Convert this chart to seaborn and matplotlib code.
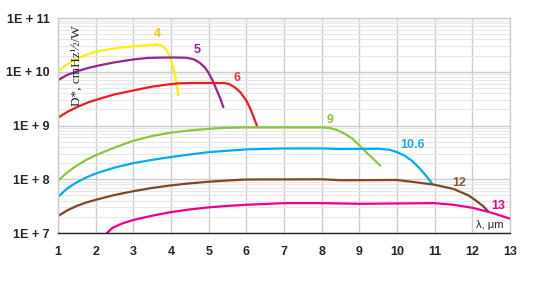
import numpy as np
import pandas as pd
import matplotlib
matplotlib.use("Agg")
import matplotlib.pyplot as plt
import seaborn as sns

# %%
# detectivity curves (wavelength in um, D* in cmHz^1/2/W)

x_4 = [1.0, 1.25, 1.5, 1.8, 2.1, 2.6, 3.0, 3.4, 3.63, 3.75, 3.85, 3.95, 4.02, 4.08, 4.13, 4.17, 4.19]
d_4 = [1.02e10, 1.4e10, 1.75e10, 2.15e10, 2.45e10, 2.8e10, 3.0e10, 3.15e10, 3.25e10, 3.1e10,
       2.7e10, 2.1e10, 1.5e10, 1.05e10, 7e9, 5e9, 3.7e9]

x_5 = [1.0, 1.25, 1.5, 1.8, 2.1, 2.5, 3.0, 3.4, 4.0, 4.4, 4.6, 4.75, 4.9, 5.0, 5.1, 5.2, 5.3, 5.39]
d_5 = [7e9, 8.8e9, 1.02e10, 1.18e10, 1.32e10, 1.5e10, 1.7e10, 1.82e10, 1.85e10, 1.83e10,
       1.72e10, 1.5e10, 1.2e10, 9.5e9, 7e9, 4.8e9, 3.3e9, 2.2e9]

x_6 = [1.0, 1.25, 1.5, 1.8, 2.1, 2.5, 3.0, 3.5, 3.9, 4.2, 4.6, 5.4, 5.55, 5.7, 5.85, 6.0, 6.1, 6.2, 6.28]
d_6 = [1.4e9, 1.8e9, 2.2e9, 2.7e9, 3.15e9, 3.8e9, 4.5e9, 5.3e9, 5.8e9, 6.1e9, 6.2e9, 6.2e9,
       5.9e9, 5.1e9, 4.1e9, 2.9e9, 2.1e9, 1.4e9, 1.0e9]

x_9 = [1.0, 1.25, 1.5, 1.75, 2.0, 2.5, 3.0, 3.5, 4.0, 4.5, 5.0, 5.5, 6.0, 8.0, 8.2, 8.4,
       8.6, 8.8, 9.0, 9.2, 9.4, 9.55]
d_9 = [9.4e7, 1.35e8, 1.8e8, 2.3e8, 2.8e8, 3.9e8, 5.2e8, 6.4e8, 7.4e8, 8.1e8, 8.7e8, 9.1e8,
       9.25e8, 9.25e8, 9.0e8, 8.3e8, 7.1e8, 5.8e8, 4.3e8, 3.1e8, 2.3e8, 1.8e8]

x_106 = [1.0, 1.25, 1.5, 1.75, 2.0, 2.5, 3.0, 3.5, 4.0, 4.5, 5.0, 5.5, 6.0, 7.0, 8.0, 8.5,
         9.5, 9.8, 10.0, 10.2, 10.4, 10.6, 10.8, 10.93]
d_106 = [4.7e7, 6.8e7, 8.8e7, 1.08e8, 1.28e8, 1.65e8, 2.0e8, 2.3e8, 2.6e8, 2.9e8, 3.2e8, 3.4e8,
         3.6e8, 3.75e8, 3.75e8, 3.65e8, 3.7e8, 3.55e8, 3.2e8, 2.75e8, 2.2e8, 1.6e8, 1.1e8, 8.3e7]

x_12 = [1.0, 1.25, 1.5, 1.75, 2.0, 2.5, 3.0, 3.5, 4.0, 4.5, 5.0, 5.5, 6.0, 8.0, 8.5, 10.0,
        10.5, 11.0, 11.5, 11.9, 12.1, 12.3, 12.42]
d_12 = [2.07e7, 2.65e7, 3.2e7, 3.7e7, 4.15e7, 5.1e7, 6.0e7, 6.9e7, 7.7e7, 8.4e7, 9.0e7, 9.5e7,
        9.9e7, 1.0e8, 9.6e7, 9.7e7, 8.8e7, 7.9e7, 6.6e7, 5.0e7, 4.0e7, 3.1e7, 2.5e7]

x_13 = [2.3, 2.45, 2.7, 3.0, 3.5, 4.0, 4.5, 5.0, 5.5, 6.0, 7.0, 8.0, 9.0, 11.0, 11.5, 12.0, 12.5, 13.0]
d_13 = [1.0e7, 1.25e7, 1.5e7, 1.75e7, 2.1e7, 2.45e7, 2.75e7, 3.0e7, 3.2e7, 3.35e7, 3.6e7, 3.6e7,
        3.5e7, 3.6e7, 3.35e7, 2.95e7, 2.4e7, 1.85e7]

series_names = ["4", "5", "6", "9", "10.6", "12", "13"]
series_x = [x_4, x_5, x_6, x_9, x_106, x_12, x_13]
series_d = [d_4, d_5, d_6, d_9, d_106, d_12, d_13]

x_ticks = list(range(1, 14))
y_ticks = [1e7, 1e8, 1e9, 1e10, 1e11]
y_tick_labels = ["1E + 7", "1E + 8", "1E + 9", "1E + 10", "1E + 11"]

# %%
# build long table for seaborn

frames = []
for name, xs, ds in zip(series_names, series_x, series_d):
    frames.append(pd.DataFrame({"wl": xs, "D": ds, "curve": name}))
df = pd.concat(frames, ignore_index=True)

line_colors = {"4": "#fff200", "5": "#92278f", "6": "#ed1c24", "9": "#8dc63f",
               "10.6": "#00aeef", "12": "#7b4a2a", "13": "#ec008c"}
label_colors = {"4": "#f5c800", "5": "#92278f", "6": "#ee3340", "9": "#8dc63f",
                "10.6": "#1fa9e1", "12": "#8b5a3c", "13": "#ec008c"}
label_pos = {"4": (3.63, 5.0e10), "5": (4.69, 2.5e10), "6": (5.75, 7.6e9),
             "9": (8.22, 1.26e9), "10.6": (10.4, 4.4e8), "12": (11.65, 8.5e7),
             "13": (12.7, 3.2e7)}

# %%
# plot

sns.set_style("white")
plt.rcParams['font.family'] = ['Liberation Sans', 'DejaVu Sans']

fig = plt.figure(figsize=(5.55, 2.92), dpi=100)
ax = fig.add_axes([0.1045, 0.202, 0.8145, 0.736])

sns.lineplot(data=df, x="wl", y="D", hue="curve", palette=line_colors,
             sort=False, estimator=None, linewidth=1.6, legend=False, ax=ax)
for ln in ax.lines:
    ln.set_solid_joinstyle("round")
    ln.set_solid_capstyle("round")

ax.set_yscale("log")
ax.set_xlim(1, 13)
ax.set_ylim(1e7, 1e11)
ax.set_xticks(x_ticks)
ax.set_xticklabels([str(t) for t in x_ticks], fontsize=9, fontweight="bold")
ax.set_yticks(y_ticks)
ax.set_yticklabels(y_tick_labels, fontsize=9, fontweight="bold")
ax.yaxis.set_minor_formatter(matplotlib.ticker.NullFormatter())

ax.grid(True, which="major", color="#cccccc", linewidth=1.0)
ax.grid(True, which="minor", axis="y", color="#e8e8e8", linewidth=0.8)
ax.set_axisbelow(True)

ax.tick_params(axis="x", which="major", length=3, width=0.8, color="black", pad=6)
ax.tick_params(axis="y", which="both", length=0, pad=6)

for side in ["top", "right", "left"]:
    ax.spines[side].set_color("#cccccc")
    ax.spines[side].set_linewidth(1.0)
ax.spines["bottom"].set_color("#222222")
ax.spines["bottom"].set_linewidth(1.0)

ax.set_xlabel("")
ax.set_ylabel("")

for name in series_names:
    px, py = label_pos[name]
    ax.text(px, py, name, color=label_colors[name], fontsize=9,
            fontweight="bold", ha="center", va="center")

ax.text(12.47, 1.4e7, "λ, μm", fontsize=8, ha="center", va="center",
        bbox=dict(facecolor="white", edgecolor="none", pad=0.5))
ax.text(1.5, 1.3e10, "D*, cmHz½/W", fontsize=9.5, rotation=90,
        ha="center", va="center", family=["Liberation Serif", "DejaVu Serif"])

fig.savefig("out.png", dpi=100, facecolor="white")
